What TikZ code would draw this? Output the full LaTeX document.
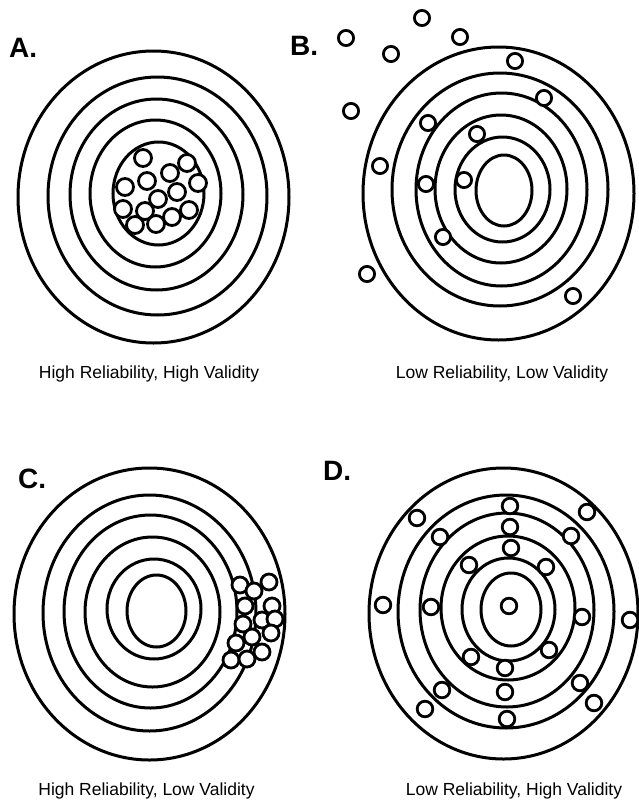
\documentclass[tikz,border=0pt]{standalone}
\usepackage{fontspec}
\setmainfont{Liberation Sans}

\begin{document}
\begin{tikzpicture}[
  x=1pt, y=-1pt,
  ring/.style={draw=black, line width=3pt},
  shot/.style={draw=black, fill=white, line width=2.8pt},
  letter/.style={font=\fontsize{28}{30}\selectfont\bfseries, anchor=base west, inner sep=0pt},
  caption/.style={font=\fontsize{17.5}{20}\selectfont, anchor=base, inner sep=0pt}
]
\useasboundingbox[fill=white] (0,0) rectangle (638,801);

% --------------------------------------------------------------------------
% A. Tight group in the centre.
% --------------------------------------------------------------------------
\foreach \cx/\cy/\rx/\ry in {
  153.5/197/135.5/146, 157.5/196/109.5/119, 156.5/194.5/86.5/95.5,
  155.5/193.5/65.5/73.5, 158.5/193.5/45.5/51.5}
  \draw[ring] (\cx,\cy) ellipse [x radius=\rx, y radius=\ry];
\foreach \x/\y in {
  143/158, 187/163, 170/173, 147/181, 198/183, 125/187, 177/192,
  158/199, 123/209, 145/211, 189/210, 172/217, 135/225, 156/224}
  \draw[shot] (\x,\y) circle [radius=8.5];
\node[letter] (labA) at (9,57) {A.};
\node[caption] (capA) at (149,378) {High Reliability, High Validity};

% --------------------------------------------------------------------------
% B. Scattered shots, many off the target.
% --------------------------------------------------------------------------
\foreach \cx/\cy/\rx/\ry in {
  498.5/193.5/135.5/146.5, 500/189.5/108/116.5, 501.5/189.5/85.5/96.5,
  501/189/66/74, 502.5/189.5/47.5/52.5, 504/190.5/28/35.5}
  \draw[ring] (\cx,\cy) ellipse [x radius=\rx, y radius=\ry];
\foreach \x/\y in {
  422/18, 346/38, 460/37, 391/54, 515/61, 351/111, 544/98, 428/123,
  477/134, 380/166, 426/184, 464/180, 443/237, 367/274, 573/296}
  \draw[shot] (\x,\y) circle [radius=7.6];
\node[letter] (labB) at (290,55) {B.};
\node[caption] (capB) at (502,378) {Low Reliability, Low Validity};

% --------------------------------------------------------------------------
% C. Tight group, off to the right.
% --------------------------------------------------------------------------
\foreach \cx/\cy/\rx/\ry in {
  149.5/614/135.5/146, 149.5/613/106.5/118, 150.5/611.5/86.5/96.5,
  152.5/612/67.5/75, 154/609/47/50, 156.5/611/29.5/36}
  \draw[ring] (\cx,\cy) ellipse [x radius=\rx, y radius=\ry];
\foreach \x/\y in {
  240/585, 254/591, 269/582, 245/606, 272/606, 243/624, 262/620,
  275/619, 252/637, 271/633, 236/643, 262/652, 231/660, 247/659}
  \draw[shot] (\x,\y) circle [radius=8];
\node[letter] (labC) at (18,488) {C.};
\node[caption] (capC) at (146.5,795) {High Reliability, Low Validity};

% --------------------------------------------------------------------------
% D. Spread evenly round the centre.
% --------------------------------------------------------------------------
\foreach \cx/\cy/\rx/\ry in {
  503.5/613.5/134.5/145.5, 506/611.5/108/116.5, 507/610/87/97,
  508/608/67/72, 508.5/609.5/46.5/51.5, 511/609.5/30/36.5}
  \draw[ring] (\cx,\cy) ellipse [x radius=\rx, y radius=\ry];
\foreach \x/\y in {
  510/506, 417/518, 587/512, 510/527, 440/537, 571/536, 511/548,
  469/565, 546/567, 383/605, 431/607, 509/606, 582/617, 630/620,
  471/657, 549/650, 505/668, 580/683, 442/690, 505/692, 594/703,
  425/709, 507/719}
  \draw[shot] (\x,\y) circle [radius=7.8];
\node[letter] (labD) at (323,480) {D.};
\node[caption] (capD) at (514,795) {Low Reliability, High Validity};

\end{tikzpicture}
\end{document}
